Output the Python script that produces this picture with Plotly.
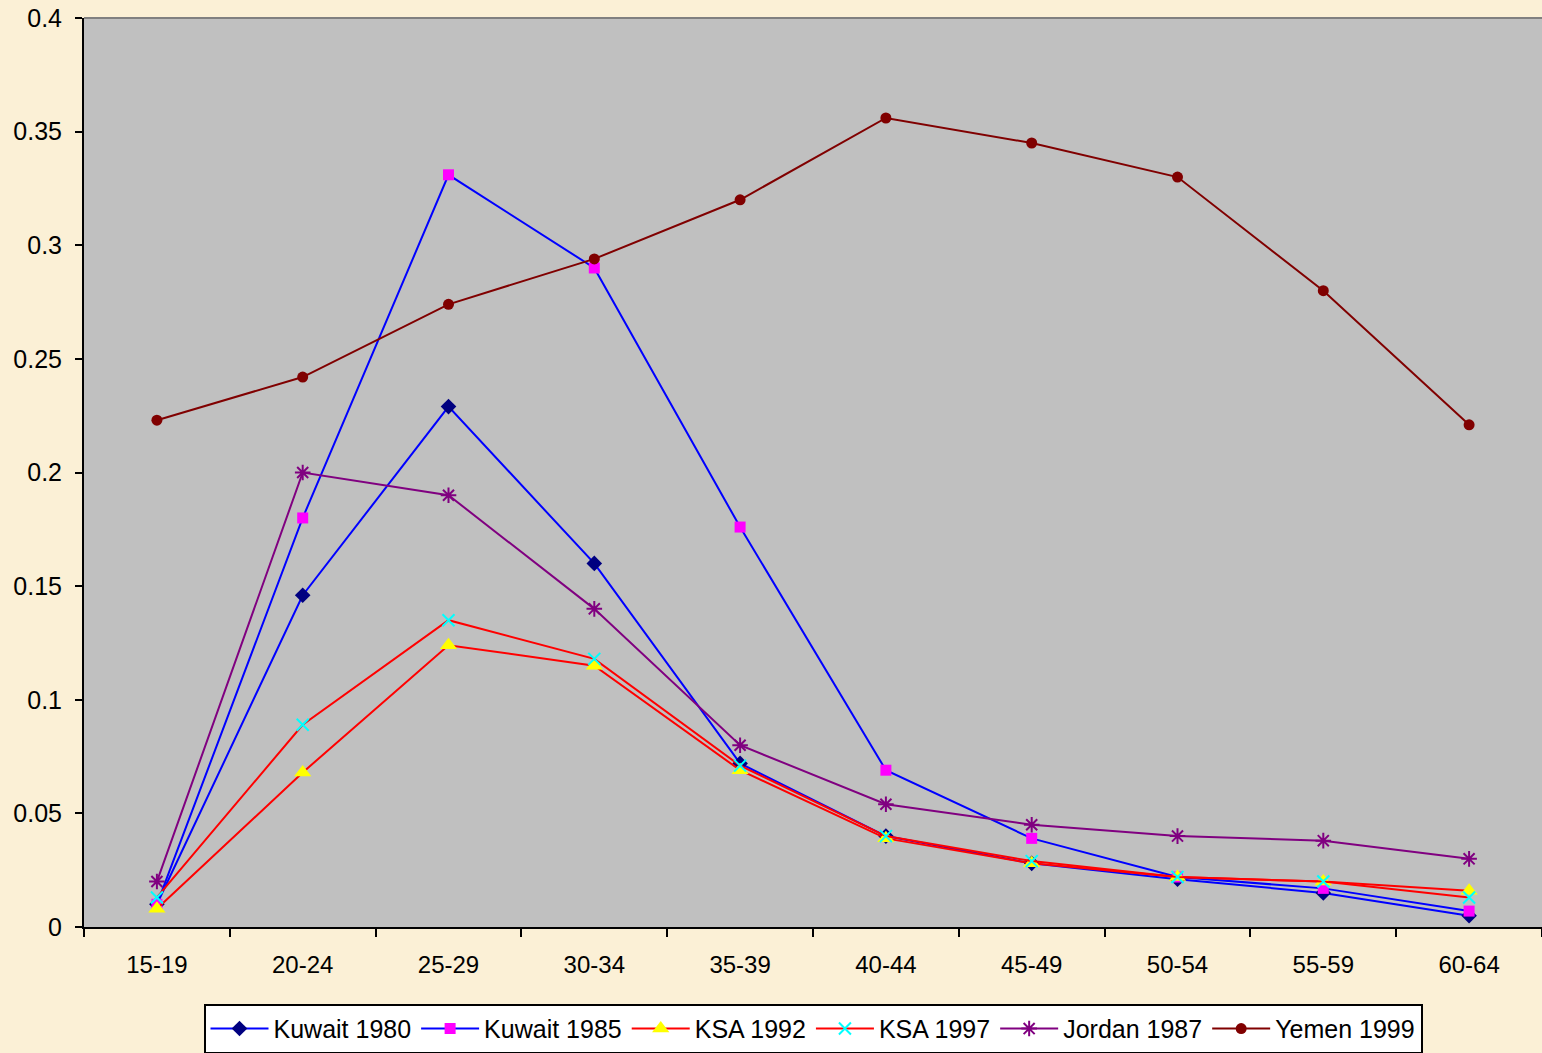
import plotly.graph_objects as go

categories = ["15-19", "20-24", "25-29", "30-34", "35-39", "40-44", "45-49", "50-54", "55-59", "60-64"]

kuwait_1980 = [0.010, 0.146, 0.229, 0.160, 0.072, 0.040, 0.028, 0.021, 0.015, 0.005]
kuwait_1985 = [0.010, 0.180, 0.331, 0.290, 0.176, 0.069, 0.039, 0.022, 0.017, 0.007]
ksa_1992 = [0.008, 0.068, 0.124, 0.115, 0.069, 0.039, 0.028, 0.022, 0.020, 0.016]
ksa_1997 = [0.013, 0.089, 0.135, 0.118, 0.071, 0.040, 0.029, 0.022, 0.020, 0.013]
jordan_1987 = [0.020, 0.200, 0.190, 0.140, 0.080, 0.054, 0.045, 0.040, 0.038, 0.030]
yemen_1999 = [0.223, 0.242, 0.274, 0.294, 0.320, 0.356, 0.345, 0.330, 0.280, 0.221]

y_ticks = [0, 0.05, 0.1, 0.15, 0.2, 0.25, 0.3, 0.35, 0.4]
y_tick_labels = ["0", "0.05", "0.1", "0.15", "0.2", "0.25", "0.3", "0.35", "0.4"]

series = [
    ("Kuwait 1980", kuwait_1980, "#0000FF", dict(symbol="diamond", color="#000080", size=12)),
    ("Kuwait 1985", kuwait_1985, "#0000FF", dict(symbol="square", color="#FF00FF", size=11)),
    ("KSA 1992", ksa_1992, "#FF0000", dict(symbol="triangle-up", color="#FFFF00", size=15)),
    ("KSA 1997", ksa_1997, "#FF0000", dict(symbol="x-thin-open", color="#00FFFF", size=12, line=dict(color="#00FFFF", width=2))),
    ("Jordan 1987", jordan_1987, "#800080", dict(symbol="asterisk-open", color="#800080", size=13, line=dict(color="#800080", width=2))),
    ("Yemen 1999", yemen_1999, "#800000", dict(symbol="circle", color="#800000", size=11)),
]

fig = go.Figure()
for name, vals, lc, mk in series:
    fig.add_trace(go.Scatter(
        x=categories, y=vals, name=name, mode="lines+markers",
        line=dict(color=lc, width=2), marker=mk,
    ))

font = "Liberation Sans, Arial, sans-serif"
fig.update_layout(
    width=1542, height=1053,
    margin=dict(l=84, r=0, t=18, b=126, autoexpand=False),
    paper_bgcolor="#FBF0D6",
    plot_bgcolor="#C0C0C0",
    font=dict(family=font, size=25, color="#000000"),
    showlegend=True,
    legend=dict(
        orientation="h", x=0.5, xanchor="center", y=-0.0845, yanchor="top",
        bgcolor="#FFFFFF", bordercolor="#000000", borderwidth=2,
        font=dict(family=font, size=25, color="#000000"),
        itemwidth=58, tracegroupgap=0,
    ),
    xaxis=dict(
        type="category", showgrid=False, zeroline=False,
        showline=True, linecolor="#000000", linewidth=2,
        ticks="outside", tickson="boundaries", ticklen=8, tickwidth=2, tickcolor="#000000",
        range=[-0.5, 9.5], tickfont=dict(size=24), ticklabelstandoff=15,
    ),
    yaxis=dict(
        range=[0, 0.4], tickvals=y_ticks, ticktext=y_tick_labels,
        showgrid=False, zeroline=False,
        showline=True, linecolor="#000000", linewidth=2,
        ticks="outside", ticklen=7, tickwidth=2, tickcolor="#000000",
        tickfont=dict(size=25), ticklabelstandoff=8,
        mirror=False,
    ),
    shapes=[dict(type="line", xref="paper", yref="paper", x0=0, x1=1, y0=1, y1=1,
                 line=dict(color="#808080", width=2))],
)

fig.write_html(
    "out.html",
    config={"displayModeBar": False},
    post_script="document.body.style.margin='0';document.body.style.background='#FBF0D6';",
)
